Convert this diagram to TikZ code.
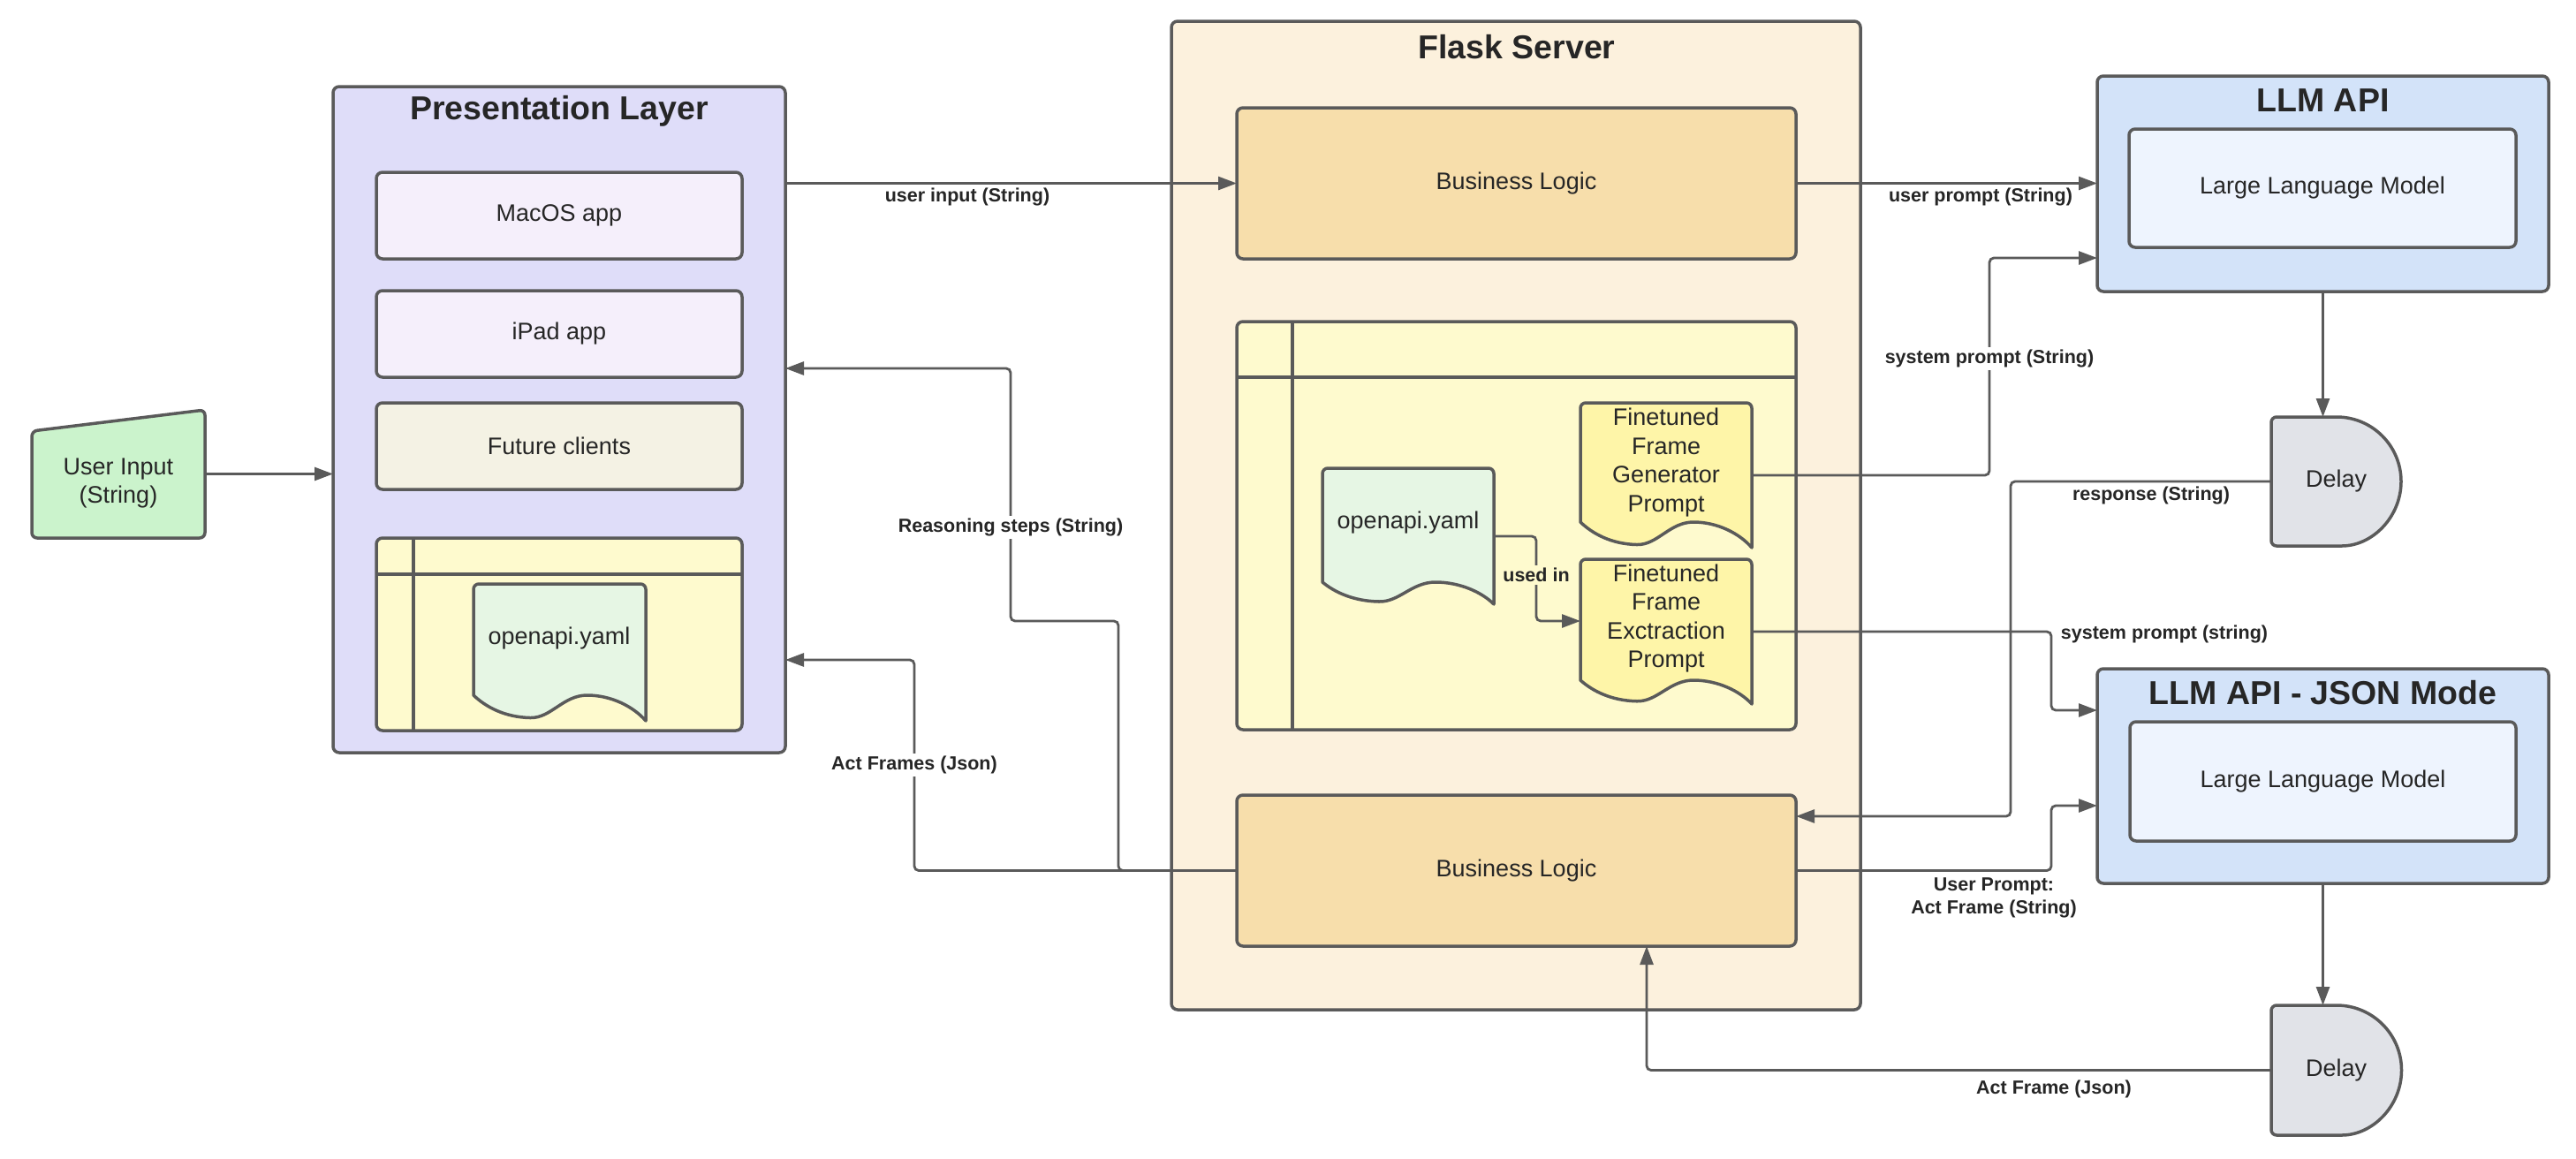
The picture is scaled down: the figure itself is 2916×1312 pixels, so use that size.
\documentclass[tikz,border=0pt]{standalone}
\usepackage{fontspec}
\setmainfont{Liberation Sans}
\usetikzlibrary{arrows.meta,calc}

\definecolor{edge}{HTML}{5A5A5A}
\definecolor{presfill}{HTML}{DFDDF9}
\definecolor{appfill}{HTML}{F5EFFB}
\definecolor{futfill}{HTML}{F4F2E4}
\definecolor{lanefill}{HTML}{FEFACE}
\definecolor{docgreen}{HTML}{E6F6E4}
\definecolor{uifill}{HTML}{CBF3CC}
\definecolor{flaskfill}{HTML}{FCF1DD}
\definecolor{blfill}{HTML}{F7DEAB}
\definecolor{promptfill}{HTML}{FEF5A8}
\definecolor{llmfill}{HTML}{D3E3F9}
\definecolor{llminfill}{HTML}{EEF4FE}
\definecolor{delayfill}{HTML}{E1E3E8}
\definecolor{txt}{HTML}{262626}

\tikzset{
  box/.style={draw=edge, line width=3.5pt, rounded corners=7pt, inner sep=0pt, outer sep=0pt,
    text=txt, font=\fontsize{27}{32.5}\selectfont, align=center},
  plain/.style={inner sep=0pt, outer sep=0pt, text=txt, font=\fontsize{27}{32.5}\selectfont, align=center},
  titletext/.style={inner sep=0pt, text=txt, font=\bfseries\fontsize{37.5}{45}\selectfont},
  lbl/.style={inner sep=3pt, text=txt, font=\bfseries\fontsize{21.5}{26}\selectfont, align=center},
  conn/.style={draw=edge, line width=2.8pt, rounded corners=5pt},
  arr/.style={conn, -{Triangle[length=21pt,width=15pt]}},
  outline/.style={draw=edge, line width=3.5pt, line join=round},
}

% document shape: #1 x0, #2 top, #3 width, #4 height, #5 wave depth, #6 fill
\newcommand{\docshape}[6]{%
  \filldraw[outline, fill=#6] (#1,{#2+#4-#5}) [rounded corners=6pt] -- (#1,#2) -- ({#1+#3},#2) [sharp corners] -- ({#1+#3},{#2+#4})
    .. controls ({#1+0.93*#3},{#2+#4-0.55*#5}) and ({#1+0.8*#3},{#2+#4-#5}) .. ({#1+0.66*#3},{#2+#4-#5})
    .. controls ({#1+0.52*#3},{#2+#4-#5}) and ({#1+0.45*#3},{#2+#4-0.1*#5}) .. ({#1+0.33*#3},{#2+#4-0.12*#5})
    .. controls ({#1+0.18*#3},{#2+#4-0.14*#5}) and ({#1+0.07*#3},{#2+#4-0.55*#5}) .. (#1,{#2+#4-#5}) -- cycle;}

% delay shape: #1 x0, #2 top, #3 radius, #4 flat length
\newcommand{\delayshape}[4]{%
  \filldraw[outline, fill=delayfill] ({#1+#4},#2) [rounded corners=6pt] -- (#1,#2) -- (#1,{#2+2*#3}) -- ({#1+#4},{#2+2*#3}) [sharp corners]
    .. controls ({#1+#4+0.5523*#3},{#2+2*#3}) and ({#1+#4+#3},{#2+#3+0.5523*#3}) .. ({#1+#4+#3},{#2+#3})
    .. controls ({#1+#4+#3},{#2+#3-0.5523*#3}) and ({#1+#4+0.5523*#3},#2) .. ({#1+#4},#2) -- cycle;}

\begin{document}
\begin{tikzpicture}[x=1pt,y=-1pt]
\useasboundingbox (0,0) rectangle (2916,1312);
\fill[white] (0,0) rectangle (2916,1312);

% ---------- User input ----------
\filldraw[outline, fill=uifill, rounded corners=6pt] (36,488) -- (232,464) -- (232,609) -- (36,609) -- cycle;
\node[plain, minimum width=196pt, minimum height=145pt] (userin) at (134,536.5) {};
\node[plain] (userinT) at (134,547) {User Input\\(String)};

% ---------- Presentation layer ----------
\node[box, fill=presfill, minimum width=512pt, minimum height=754pt] (pres) at (633,475) {};
\node[titletext] (presT) at (633,126) {Presentation Layer};
\node[box, fill=appfill, minimum width=414pt, minimum height=98pt] (macos) at (633,244) {MacOS app};
\node[box, fill=appfill, minimum width=414pt, minimum height=98pt] (ipad) at (633,378) {iPad app};
\node[box, fill=futfill, minimum width=414pt, minimum height=98pt] (future) at (633,505) {Future clients};
\node[box, fill=lanefill, minimum width=414pt, minimum height=218pt] (plane) at (633,718) {};
\draw[outline] (426,650) -- (840,650);
\draw[outline] (468,609) -- (468,827);
\docshape{536}{661}{195}{155}{29}{docgreen}
\node[plain, minimum width=195pt, minimum height=155pt] (pdoc) at (633.5,738.5) {};
\node[plain] (pdocT) at (633,723) {openapi.yaml};

% ---------- Flask server ----------
\node[box, fill=flaskfill, minimum width=780pt, minimum height=1119pt] (flask) at (1716,583.5) {};
\node[titletext] (flaskT) at (1717,53) {Flask Server};
\node[box, fill=blfill, minimum width=633pt, minimum height=171pt] (bl1) at (1716.5,207.5) {Business Logic};
\node[box, fill=lanefill, minimum width=633pt, minimum height=462pt] (flane) at (1716.5,595) {};
\draw[outline] (1400,427) -- (2033,427);
\draw[outline] (1463,364) -- (1463,826);
\docshape{1497}{530}{194}{154}{25}{docgreen}
\node[plain, minimum width=194pt, minimum height=154pt] (fdoc) at (1594,607) {};
\node[plain] (fdocT) at (1594,592) {openapi.yaml};
\docshape{1789}{456}{194}{164}{29}{promptfill}
\node[plain, minimum width=194pt, minimum height=164pt] (gen) at (1886,538) {};
\node[plain] (genT) at (1886,523.5) {Finetuned\\Frame\\Generator\\Prompt};
\docshape{1789}{633}{194}{164}{27}{promptfill}
\node[plain, minimum width=194pt, minimum height=164pt] (ext) at (1886,715) {};
\node[plain] (extT) at (1886,700) {Finetuned\\Frame\\Exctraction\\Prompt};
\node[box, fill=blfill, minimum width=633pt, minimum height=171pt] (bl2) at (1716.5,985.5) {Business Logic};

% ---------- LLM APIs ----------
\node[box, fill=llmfill, minimum width=511pt, minimum height=244pt] (llm1) at (2629.5,208) {};
\node[titletext] (llm1T) at (2629.5,114) {LLM API};
\node[box, fill=llminfill, minimum width=438pt, minimum height=134pt] (llm1in) at (2629,213) {Large Language Model};
\node[box, fill=llmfill, minimum width=511pt, minimum height=243pt] (llm2) at (2629.5,878.5) {};
\node[titletext] (llm2T) at (2629.5,784) {LLM API - JSON Mode};
\node[box, fill=llminfill, minimum width=437pt, minimum height=135pt] (llm2in) at (2629.5,884.5) {Large Language Model};

% ---------- Delays ----------
\delayshape{2571}{472}{73}{74}
\node[plain, minimum width=147pt, minimum height=146pt] (delay1) at (2644.5,545) {Delay};
\delayshape{2571}{1138}{73.5}{74}
\node[plain, minimum width=147pt, minimum height=147pt] (delay2) at (2644.5,1211.5) {Delay};

% ---------- Connectors ----------
\coordinate (sp1) at (2252,292);
\coordinate (rsp) at (2276,924);
\coordinate (sps) at (2322,804);
\coordinate (upj) at (2322,912);
\coordinate (afx) at (1864,1071);
\coordinate (afs) at (1035,747);
\coordinate (r1) at (1266,703);
\coordinate (r2) at (1144,417);
\coordinate (uin) at (1739,703);

\draw[arr] (userin.east) -- (pres.west |- userin.east);
\draw[arr] (pres.east |- bl1.west) -- (bl1.west);
\draw[arr] (bl1.east) -- (llm1.west |- bl1.east);
\draw[arr] (gen.east) -| (sp1) -- (sp1 -| llm1.west);
\draw[arr] (llm1.south) -- (llm1.south |- delay1.north);
\draw[arr] (delay1.west) -| (rsp) -- (rsp -| bl2.east);
\draw[arr] (ext.east) -| (sps) -- (sps -| llm2.west);
\draw[arr] (bl2.east) -| (upj) -- (upj -| llm2.west);
\draw[arr] (llm2.south) -- (llm2.south |- delay2.north);
\draw[arr] (delay2.west) -| (afx);
\draw[arr] (bl2.west) -| (afs) -- (afs -| pres.east);
\draw[arr] (bl2.west) -| (r1) -| (r2) -- (r2 -| pres.east);
\draw[arr] (fdoc.east) -| (uin) -- (uin -| ext.west);

% ---------- Labels ----------
\node[lbl] (lUI) at (1095,223) {user input (String)};
\node[lbl] (lUP) at (2242,223) {user prompt (String)};
\node[lbl, fill=white] (lSP) at (2252,406) {system prompt (String)};
\node[lbl] (lRS) at (2435,561) {response (String)};
\node[lbl] (lSPs) at (2450,718) {system prompt (string)};
\node[lbl] (lUPA) at (2257,1016) {User Prompt:\\Act Frame (String)};
\node[lbl] (lAF) at (2325,1233) {Act Frame (Json)};
\node[lbl, fill=white] (lAFs) at (1035,866) {Act Frames (Json)};
\node[lbl, fill=white] (lRe) at (1144,597) {Reasoning steps (String)};
\node[lbl, fill=lanefill] (lUse) at (1739,651) {used in};
\end{tikzpicture}
\end{document}
